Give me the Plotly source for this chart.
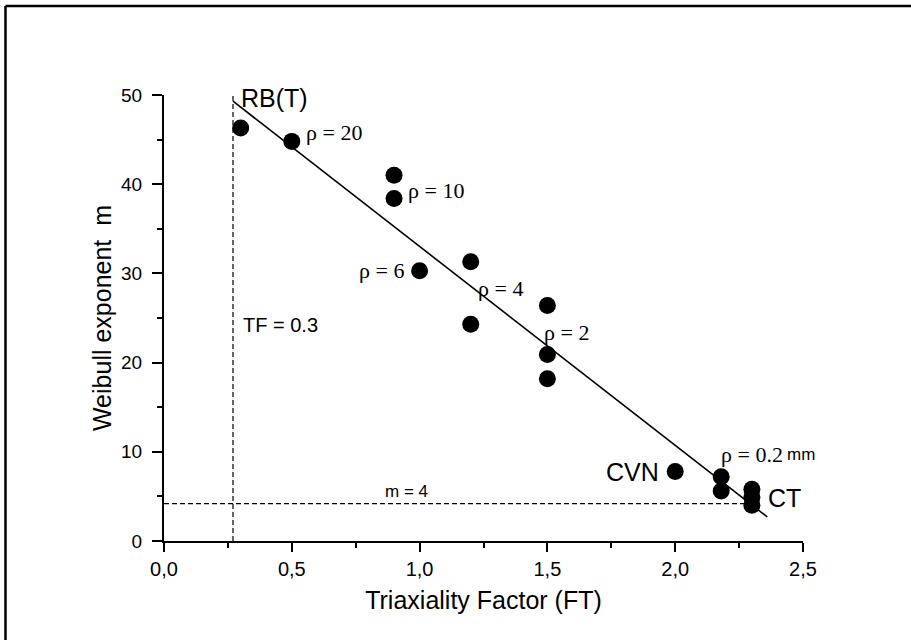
import plotly.graph_objects as go

# ---- data ----
tf_values = [0.3, 0.5, 0.9, 0.9, 1.0, 1.2, 1.2, 1.5, 1.5, 1.5, 2.0, 2.18, 2.18, 2.3, 2.3, 2.3]
m_values = [46.3, 44.8, 41.0, 38.4, 30.3, 31.3, 24.3, 26.4, 20.9, 18.2, 7.8, 7.2, 5.6, 5.8, 4.9, 4.0]

fit_x = [0.27, 2.36]
fit_y = [49.3, 2.7]

tf_limit_x = [0.27, 0.27]
tf_limit_y = [0, 50]
m_limit_x = [0, 2.3]
m_limit_y = [4.2, 4.2]

x_tickvals = [0.0, 0.5, 1.0, 1.5, 2.0, 2.5]
x_ticktext = ["0,0", "0,5", "1,0", "1,5", "2,0", "2,5"]
y_tickvals = [0, 10, 20, 30, 40, 50]

# annotation texts with anchor points (data units)
labels_sans = [
    ("RB(T)", 0.295, 49.7, "left", 25),
    ("CVN", 1.945, 7.75, "right", 25),
    ("CT", 2.355, 4.8, "left", 25),
    ("TF = 0.3", 0.30, 24.2, "left", 20),
    ("m = 4", 0.855, 5.6, "left", 17),
]
labels_serif = [
    ("ρ = 20", 0.548, 45.85, "left"),
    ("ρ = 10", 0.947, 39.35, "left"),
    ("ρ = 6", 0.947, 30.3, "right"),
    ("ρ = 4", 1.222, 28.35, "left"),
    ("ρ = 2", 1.480, 23.35, "left"),
]
rho_small = ("ρ = 0.2", 2.172, 9.65)
mm_label = ("mm", 2.43, 9.75)

SANS = "Liberation Sans, Arial, sans-serif"
SERIF = "Liberation Serif, Times New Roman, serif"

fig = go.Figure()

fig.add_trace(go.Scatter(x=tf_limit_x, y=tf_limit_y, mode="lines",
                         line=dict(color="black", width=1.2, dash="5px,3px"),
                         showlegend=False, hoverinfo="skip"))
fig.add_trace(go.Scatter(x=m_limit_x, y=m_limit_y, mode="lines",
                         line=dict(color="black", width=1.2, dash="5px,3px"),
                         showlegend=False, hoverinfo="skip"))
fig.add_trace(go.Scatter(x=fit_x, y=fit_y, mode="lines",
                         line=dict(color="black", width=1.6),
                         showlegend=False, hoverinfo="skip"))
fig.add_trace(go.Scatter(x=tf_values, y=m_values, mode="markers",
                         marker=dict(color="black", size=17, line=dict(width=0)),
                         showlegend=False, cliponaxis=False))

for text, x, y, anchor, size in labels_sans:
    fig.add_annotation(x=x, y=y, text=text, showarrow=False, xanchor=anchor,
                       yanchor="middle", font=dict(family=SANS, size=size, color="black"))
for text, x, y, anchor in labels_serif:
    fig.add_annotation(x=x, y=y, text=text, showarrow=False, xanchor=anchor,
                       yanchor="middle", font=dict(family=SERIF, size=22, color="black"))
fig.add_annotation(x=rho_small[1], y=rho_small[2], text=rho_small[0], showarrow=False,
                   xanchor="left", yanchor="middle",
                   font=dict(family=SERIF, size=22, color="black"))
fig.add_annotation(x=mm_label[1], y=mm_label[2], text=mm_label[0], showarrow=False,
                   xanchor="left", yanchor="middle",
                   font=dict(family=SANS, size=17, color="black"))

# outer frame: only the left and top edges fall inside the window
fig.add_shape(type="line", xref="paper", yref="paper",
              x0=(5.5 - 164) / 639, x1=(5.5 - 164) / 639,
              y0=(541 - 700) / 446, y1=(541 - 6) / 446,
              line=dict(color="black", width=2.5))
fig.add_shape(type="line", xref="paper", yref="paper",
              x0=(5.5 - 164) / 639, x1=(1000 - 164) / 639,
              y0=(541 - 6) / 446, y1=(541 - 6) / 446,
              line=dict(color="black", width=2.5))

fig.update_layout(
    width=911, height=640, autosize=False,
    margin=dict(l=164, r=108, t=95, b=99),
    paper_bgcolor="white", plot_bgcolor="white",
    font=dict(family=SANS, color="black"),
    xaxis=dict(
        range=[0, 2.5], showgrid=False, zeroline=False,
        showline=True, linecolor="black", linewidth=2,
        ticks="outside", ticklen=9, tickwidth=2, tickcolor="black",
        tickvals=x_tickvals, ticktext=x_ticktext,
        tickfont=dict(family=SANS, size=20, color="black"),
        minor=dict(dtick=0.25, ticks="outside", ticklen=5, tickwidth=2, tickcolor="black", showgrid=False),
        title=dict(text="Triaxiality Factor (FT)", font=dict(family=SANS, size=25, color="black"), standoff=12),
    ),
    yaxis=dict(
        range=[0, 50], showgrid=False, zeroline=False,
        showline=True, linecolor="black", linewidth=2,
        ticks="outside", ticklen=10, tickwidth=2, tickcolor="black",
        tickvals=y_tickvals,
        tickfont=dict(family=SANS, size=19, color="black"),
        ticklabelstandoff=6,
        minor=dict(dtick=5, ticks="outside", ticklen=5, tickwidth=2, tickcolor="black", showgrid=False),
        title=dict(text="Weibull exponent  m", font=dict(family=SANS, size=25, color="black"), standoff=2),
    ),
)

fig.write_html(
    "out.html",
    config={"displayModeBar": False},
    post_script=(
        "document.body.style.margin='0';"
        "document.body.style.overflow='hidden';"
        "document.documentElement.style.overflow='hidden';"
    ),
)
